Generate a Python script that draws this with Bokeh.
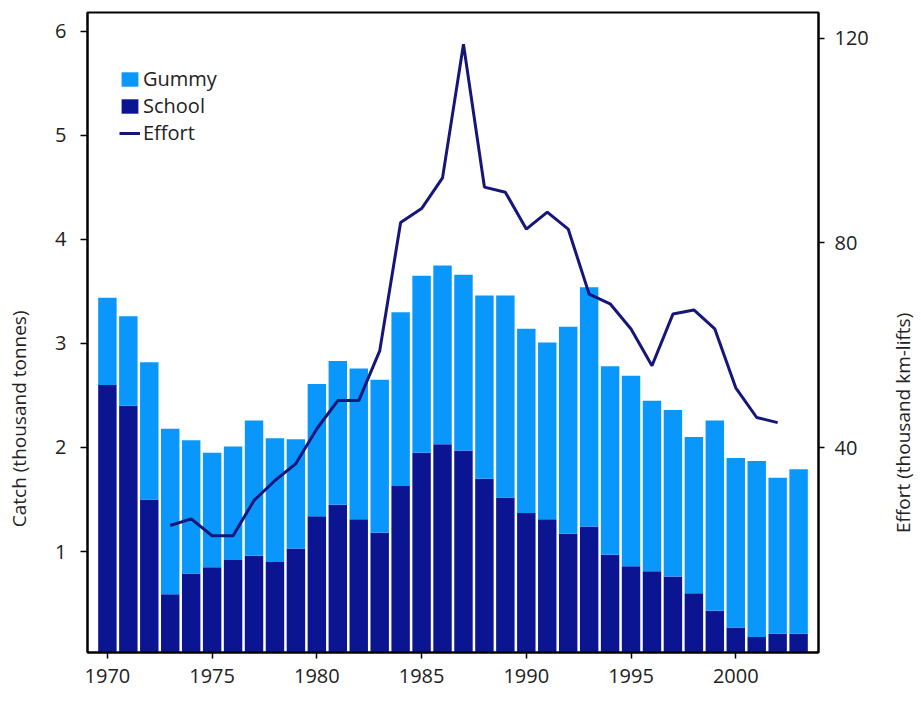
import math
from bokeh.plotting import figure
from bokeh.layouts import row
from bokeh.models import (Range1d, LinearAxis, FixedTicker, Legend, LegendItem,
                          ColumnDataSource, Div)
from bokeh.embed import file_html
from bokeh.resources import INLINE

years = list(range(1970, 2004))
school = [2.60, 2.40, 1.50, 0.59, 0.79, 0.85, 0.92, 0.96, 0.90, 1.03,
          1.34, 1.45, 1.31, 1.18, 1.63, 1.95, 2.03, 1.97, 1.70, 1.52,
          1.37, 1.31, 1.17, 1.24, 0.97, 0.86, 0.81, 0.76, 0.60, 0.43,
          0.27, 0.18, 0.21, 0.21]
gummy = [0.84, 0.86, 1.32, 1.59, 1.28, 1.10, 1.09, 1.30, 1.19, 1.05,
         1.27, 1.38, 1.45, 1.47, 1.67, 1.70, 1.72, 1.69, 1.76, 1.94,
         1.77, 1.70, 1.99, 2.30, 1.81, 1.83, 1.64, 1.60, 1.50, 1.83,
         1.63, 1.69, 1.50, 1.58]
effort_years = list(range(1973, 2003))
effort = [24.8, 26.1, 22.8, 22.8, 29.7, 33.6, 36.9, 43.7, 49.2, 49.2,
          58.9, 84.0, 86.7, 92.7, 118.8, 90.9, 89.9, 82.7, 86.0, 82.7,
          70.0, 68.1, 63.2, 56.0, 66.1, 66.9, 63.2, 51.7, 45.9, 44.9]

catch_ticks = [1, 2, 3, 4, 5, 6]
effort_ticks = [40, 80, 120]
year_ticks = [1970, 1975, 1980, 1985, 1990, 1995, 2000]
catch_title = "Catch (thousand tonnes)"
effort_title = "Effort (thousand km-lifts)"

FONT = "Open Sans"
TXT = "#222222"
GUMMY_C = "#0a97fb"
SCHOOL_C = "#0b1591"
EFFORT_C = "#16167a"
NBSP = "\u00a0"

p = figure(frame_width=731, frame_height=640,
           min_border_left=87, min_border_right=72,
           min_border_top=12, min_border_bottom=42,
           x_range=Range1d(1969.05, 2003.95), y_range=Range1d(0.03, 6.18),
           output_backend="svg", toolbar_location=None, tools="")
p.extra_y_ranges = {"effort": Range1d(0, 125)}
p.xgrid.visible = False
p.ygrid.visible = False
p.outline_line_color = "black"
p.outline_line_width = 2
p.background_fill_color = "white"
p.border_fill_color = "white"

src = ColumnDataSource(dict(year=years, school=school, gummy=gummy))
rs = p.vbar_stack(["school", "gummy"], x="year", width=0.88, source=src,
                  color=[SCHOOL_C, GUMMY_C], line_color=None)
esrc = ColumnDataSource(dict(year=effort_years, effort=effort))
rl = p.line("year", "effort", source=esrc, y_range_name="effort",
            line_color=EFFORT_C, line_width=3)

def style(ax, ticks, tick_out):
    ax.ticker = FixedTicker(ticks=ticks)
    ax.minor_tick_line_color = None
    ax.major_tick_in = 0
    ax.major_tick_out = tick_out
    ax.major_tick_line_color = "black"
    ax.major_tick_line_width = 1.5
    ax.axis_line_color = "black"
    ax.axis_line_width = 2
    ax.major_label_text_font = FONT
    ax.major_label_text_font_size = "20px"
    ax.major_label_text_color = TXT
    ax.axis_label_text_font = FONT
    ax.axis_label_text_font_size = "19px"
    ax.axis_label_text_font_style = "normal"
    ax.axis_label_text_color = TXT

yax = p.yaxis[0]
style(yax, catch_ticks, 7)
yax.major_label_standoff = 14
# trailing padding pushes the visible title below the frame centre
yax.axis_label = catch_title + NBSP * 35
yax.axis_label_standoff = 20

style(p.xaxis[0], year_ticks, 6)
p.xaxis[0].major_label_standoff = 10

rax = LinearAxis(y_range_name="effort")
style(rax, effort_ticks, 6)
rax.major_label_standoff = 10
p.add_layout(rax, "right")

legend = Legend(items=[LegendItem(label="Gummy", renderers=[rs[1]]),
                       LegendItem(label="School", renderers=[rs[0]]),
                       LegendItem(label="Effort", renderers=[rl])],
                location=(32, 506))
legend.glyph_width = 21
legend.glyph_height = 18
legend.label_height = 26
legend.spacing = 0
legend.padding = 0
legend.margin = 0
legend.label_standoff = 3
legend.border_line_color = None
legend.background_fill_alpha = 0
legend.label_text_font = FONT
legend.label_text_font_size = "20px"
legend.label_text_color = TXT
p.add_layout(legend)

# right-hand title, reading bottom-to-top like the reference
right_title = Div(text=effort_title, width=30, height=300, margin=(273, 0, 0, 0),
                  styles={"writing-mode": "vertical-rl",
                          "transform": "rotate(180deg)",
                          "font-family": FONT, "font-size": "19px",
                          "color": TXT, "text-align": "center",
                          "line-height": "26px", "white-space": "nowrap"})

layout = row(p, right_title)
open("out.html", "w").write(file_html(layout, INLINE))
